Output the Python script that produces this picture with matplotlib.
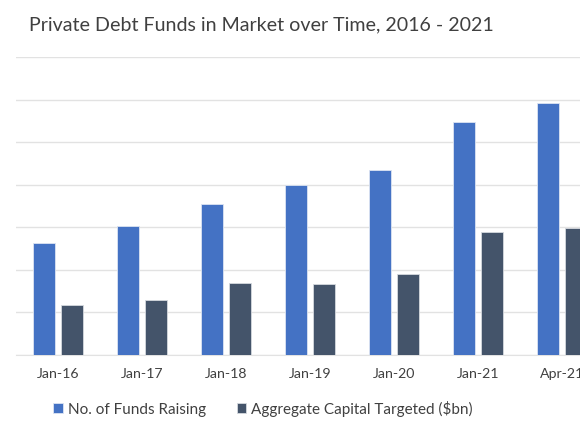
import matplotlib.pyplot as plt
import numpy as np

plt.rcParams['font.family'] = ['Lato', 'DejaVu Sans']

periods = ["Jan-16", "Jan-17", "Jan-18", "Jan-19", "Jan-20", "Jan-21", "Apr-21"]
funds_raising = [264, 302, 354, 399, 435, 547, 592]
capital_targeted = [118, 129, 168, 167, 191, 289, 299]

W, H = 580, 435
fig = plt.figure(figsize=(W / 100, H / 100), dpi=100)
# axes runs past the right edge, like the cropped original
left, right, top, bottom = 16, 604, 58.3, 355.7
ax = fig.add_axes([left / W, 1 - bottom / H, (right - left) / W, (bottom - top) / H])

x = np.arange(len(periods))
bw = 0.26
off = 0.17
ax.bar(x - off, funds_raising, bw, color="#4472C4", edgecolor="#DCE4F2",
       linewidth=0.6, label="No. of Funds Raising", zorder=3)
ax.bar(x + off, capital_targeted, bw, color="#44546A", edgecolor="#D5D9DF",
       linewidth=0.6, label="Aggregate Capital Targeted ($bn)", zorder=3)

ax.set_xlim(-0.5, 6.5)
ax.set_ylim(0, 700)
ax.set_yticks(range(0, 701, 100))
ax.yaxis.grid(True, color="#E2E2E2", linewidth=1.0, zorder=0)
ax.tick_params(axis="y", length=0, labelleft=False)
ax.set_xticks(x)
ax.set_xticklabels(periods, fontsize=10.2, color="#404040")
ax.tick_params(axis="x", length=0, pad=9)
for s in ["top", "right", "left"]:
    ax.spines[s].set_visible(False)
ax.spines["bottom"].set_color("#E2E2E2")

fig.text(29 / W, 1 - 25 / H, "Private Debt Funds in Market over Time, 2016 - 2021",
         fontsize=14.1, color="#404040", va="center", ha="left")

fig.legend(loc="center", bbox_to_anchor=(263 / W, 1 - 409 / H), ncol=2,
           frameon=False, fontsize=11, handlelength=0.65, handleheight=0.65,
           handletextpad=0.3, columnspacing=2.0, labelcolor="#404040")

fig.savefig("out.png", dpi=100)
